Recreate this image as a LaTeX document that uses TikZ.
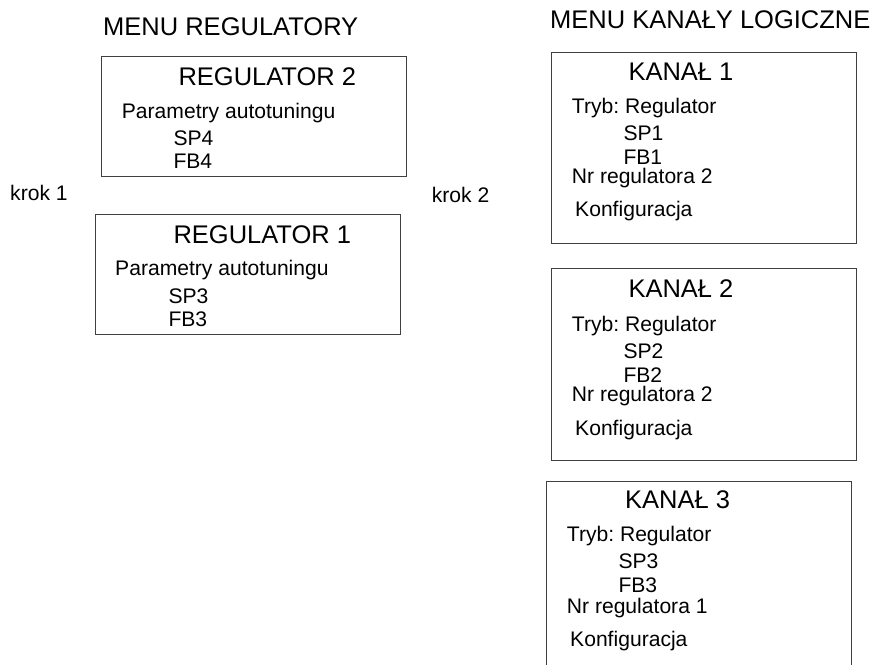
\documentclass[tikz,border=0pt]{standalone}
\usepackage{fontspec}
\setmainfont{Liberation Sans}
\frenchspacing
\begin{document}
\begin{tikzpicture}[x=1pt,y=-1pt,
  big/.style={inner sep=0pt,anchor=base west,font=\fontsize{25.5}{30}\selectfont},
  small/.style={inner sep=0pt,anchor=base west,font=\fontsize{21.1}{25}\selectfont},
  frame/.style={draw=black!75,line width=0.9pt}]
\useasboundingbox (0,0) rectangle (879,667);
% titles
\node[big] (t1) at (103,35) {MENU REGULATORY};
\node[big] (t2) at (550,28.3) {MENU KANAŁY LOGICZNE};
\node[small] (k1) at (10,200) {krok 1};
\node[small] (k2) at (431.7,202) {krok 2};
% REGULATOR 2
\draw[frame] (101,56) rectangle (406.5,176);
\node[big] (r2t) at (178.3,85) {REGULATOR 2};
\node[small] (r2p) at (121.7,118.3) {Parametry autotuningu};
\node[small] (r2s) at (173.3,145) {SP4};
\node[small] (r2f) at (173.3,168.3) {FB4};
% REGULATOR 1
\draw[frame] (95,214) rectangle (400,334);
\node[big] (r1t) at (173.3,243.3) {REGULATOR 1};
\node[small] (r1p) at (115,275.7) {Parametry autotuningu};
\node[small] (r1s) at (168.3,303.3) {SP3};
\node[small] (r1f) at (168.3,326.7) {FB3};
% KANAL 1
\draw[frame] (551,52) rectangle (856,243);
\node[big] (c1t) at (628.3,80) {KANAŁ 1};
\node[small] (c1m) at (571.7,113.3) {Tryb: Regulator};
\node[small] (c1s) at (623.3,140) {SP1};
\node[small] (c1f) at (623.3,164.5) {FB1};
\node[small] (c1n) at (571.7,183.5) {Nr regulatora 2};
\node[small] (c1k) at (575,216.7) {Konfiguracja};
% KANAL 2
\draw[frame] (551,268) rectangle (856,460);
\node[big] (c2t) at (628.3,297.3) {KANAŁ 2};
\node[small] (c2m) at (571.7,331.7) {Tryb: Regulator};
\node[small] (c2s) at (623.3,358.3) {SP2};
\node[small] (c2f) at (623.3,382.8) {FB2};
\node[small] (c2n) at (571.7,401.8) {Nr regulatora 2};
\node[small] (c2k) at (575,435) {Konfiguracja};
% KANAL 3 (cut off at bottom)
\draw[frame] (546.7,665) -- (546.7,481) -- (851.7,481) -- (851.7,665);
\node[big] (c3t) at (625,508.3) {KANAŁ 3};
\node[small] (c3m) at (566.7,541.7) {Tryb: Regulator};
\node[small] (c3s) at (618.3,568.3) {SP3};
\node[small] (c3f) at (618.3,592.8) {FB3};
\node[small] (c3n) at (566.7,613.5) {Nr regulatora 1};
\node[small] (c3k) at (570,646.7) {Konfiguracja};
\end{tikzpicture}
\end{document}
